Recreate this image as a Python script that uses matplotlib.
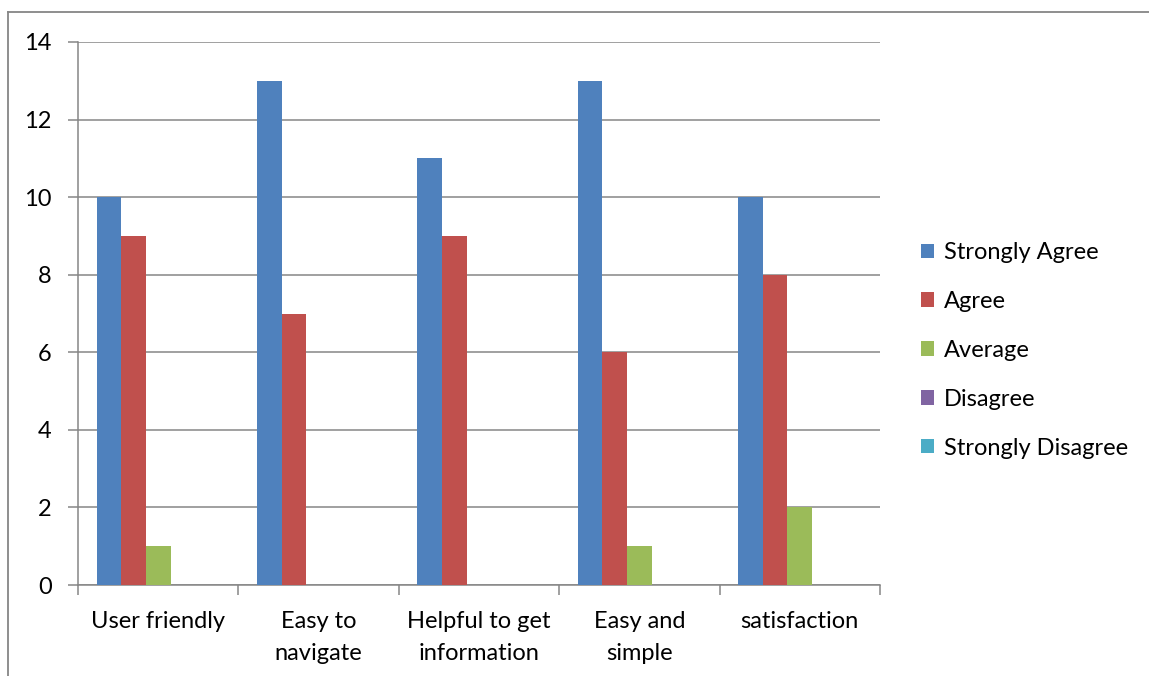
import matplotlib
matplotlib.use("Agg")
import matplotlib.pyplot as plt
import numpy as np
from matplotlib.lines import Line2D

categories = ["User friendly", "Easy to\nnavigate", "Helpful to get\ninformation", "Easy and\nsimple", "satisfaction"]
series_names = ["Strongly Agree", "Agree", "Average", "Disagree", "Strongly Disagree"]
strongly_agree = [10, 13, 11, 13, 10]
agree = [9, 7, 9, 6, 8]
average = [1, 0, 0, 1, 2]
disagree = [0, 0, 0, 0, 0]
strongly_disagree = [0, 0, 0, 0, 0]
y_ticks = [0, 2, 4, 6, 8, 10, 12, 14]

colors = ["#4F81BD", "#C0504D", "#9BBB59", "#8064A2", "#4BACC6"]
grid_col = "#868686"

plt.rcParams['font.family'] = ['Lato', 'DejaVu Sans']
FS = 17

W, H = 1149, 676
fig = plt.figure(figsize=(W / 100, H / 100), dpi=100)
ax = fig.add_axes([78 / W, 1 - 585 / H, (880 - 78) / W, (585 - 42) / H])

data = [strongly_agree, agree, average, disagree, strongly_disagree]
n = len(series_names)
x = np.arange(len(categories))
gap = 1.5
bw = 1.0 / (n + gap)
for i, (vals, name, c) in enumerate(zip(data, series_names, colors)):
    pos = x - 0.5 + (gap / 2) * bw + bw * i + bw / 2
    ax.bar(pos, vals, width=bw, color=c, label=name, edgecolor='none', zorder=3)

ax.set_xlim(-0.5, len(categories) - 0.5)
ax.set_ylim(0, 14)
ax.set_yticks(y_ticks)
ax.set_yticklabels([str(v) for v in y_ticks])
ax.yaxis.grid(True, color=grid_col, linewidth=1.1, zorder=0)
ax.set_axisbelow(True)

ax.set_xticks(x)
ax.set_xticklabels(categories, fontsize=FS, linespacing=1.6)
ax.set_xticks(np.arange(len(categories) + 1) - 0.5, minor=True)
ax.tick_params(axis='x', which='major', length=0, pad=19)
ax.tick_params(axis='x', which='minor', length=7, width=1.1, color=grid_col, direction='out')
ax.tick_params(axis='y', length=7, width=1.1, color=grid_col, direction='out', pad=12, labelsize=FS)

for s in ['top', 'right']:
    ax.spines[s].set_visible(False)
for s in ['left', 'bottom']:
    ax.spines[s].set_color(grid_col)
    ax.spines[s].set_linewidth(1.1)

leg = fig.legend(loc='upper left', bbox_to_anchor=(914 / W, 1 - 235 / H), frameon=False,
                 fontsize=FS, handlelength=0.56, handleheight=0.56, handletextpad=0.42,
                 labelspacing=1.18, borderaxespad=0, borderpad=0.3)

# outer border (top and left)
fig.add_artist(Line2D([8 / W, 1.0], [1 - 11.5 / H, 1 - 11.5 / H], transform=fig.transFigure,
                      color=grid_col, linewidth=1.3))
fig.add_artist(Line2D([8 / W, 8 / W], [0, 1 - 11.5 / H], transform=fig.transFigure,
                      color=grid_col, linewidth=1.3))

fig.savefig("out.png", dpi=100)
